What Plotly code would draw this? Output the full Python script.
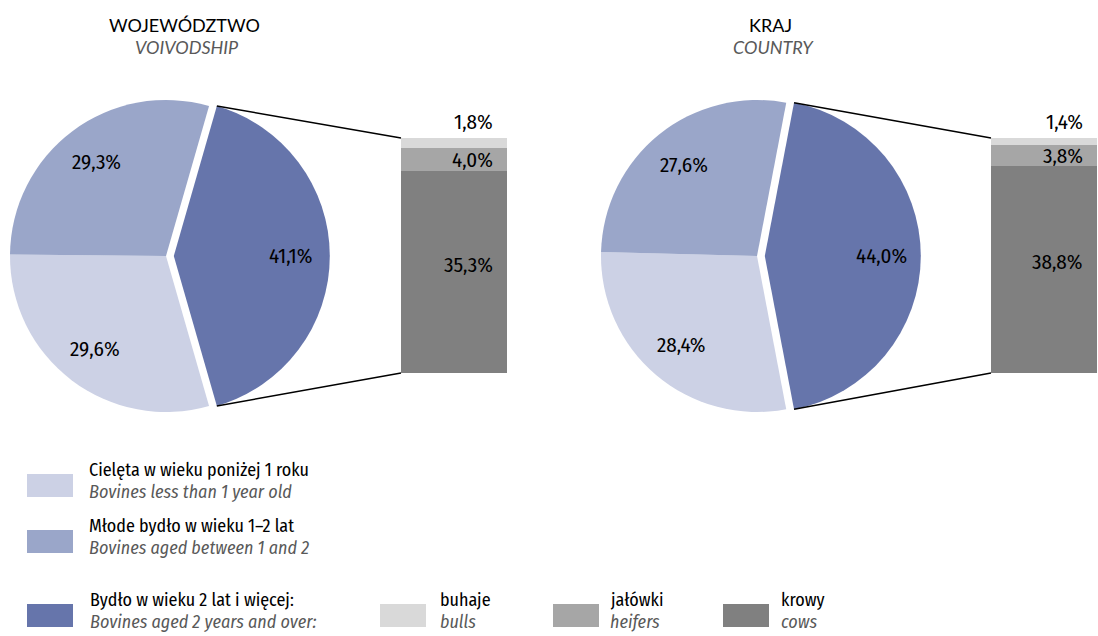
import math
import plotly.graph_objects as go

# Struktura pogłowia bydła (%)
age_groups = ["Bydło w wieku 2 lat i więcej", "Cielęta w wieku poniżej 1 roku", "Młode bydło w wieku 1–2 lat"]
voivodship_age = [41.1, 29.6, 29.3]
country_age = [44.0, 28.4, 27.6]

adult_groups = ["krowy", "jałówki", "buhaje"]
voivodship_adult = [35.3, 4.0, 1.8]
country_adult = [38.8, 3.8, 1.4]

panel_titles_pl = ["WOJEWÓDZTWO", "KRAJ"]
panel_titles_en = ["VOIVODSHIP", "COUNTRY"]

legend_pl = ["Cielęta w wieku poniżej 1 roku", "Młode bydło w wieku 1–2 lat",
             "Bydło w wieku 2 lat i więcej:", "buhaje", "jałówki", "krowy"]
legend_en = ["Bovines less than 1 year old", "Bovines aged between 1 and 2",
             "Bovines aged 2 years and over:", "bulls", "heifers", "cows"]

W, H = 1098, 636
FONT = "Fira Sans Condensed, Liberation Sans Narrow, DejaVu Sans Condensed, Roboto, sans-serif"
TITLE_FONT = "Lato, Open Sans, sans-serif"
PIE_COLORS = ["#6675ab", "#ccd1e5", "#9aa6c9"]
BAR_COLORS = ["#808080", "#a6a6a6", "#d9d9d9"]
GREY_TEXT = "#595959"
PULL = 0.05


def px_x(x):
    return x / W


def px_y(y):
    return 1 - y / H


def pct(v):
    return f"{v:.1f}%".replace(".", ",")


fig = go.Figure()

# panel layout in pixels: pie centre, radius, bar box, title centre
panels = [
    dict(age=voivodship_age, adult=voivodship_adult, cx=166, cy=256, r=156,
         bar=(401, 507, 138, 373), title_x=184),
    dict(age=country_age, adult=country_adult, cx=757, cy=256, r=156,
         bar=(991, 1097, 138, 373), title_x=770),
]

shapes = []
annotations = []

for i, p in enumerate(panels):
    half = p["r"] * (1 + PULL)
    rotation = 90 - p["age"][0] * 3.6 / 2
    fig.add_trace(go.Pie(
        values=p["age"],
        labels=age_groups,
        sort=False,
        direction="clockwise",
        rotation=rotation,
        pull=[PULL, 0, 0],
        marker=dict(colors=PIE_COLORS, line=dict(color="white", width=0)),
        textinfo="none",
        domain=dict(x=[px_x(p["cx"] - half), px_x(p["cx"] + half)],
                    y=[px_y(p["cy"] + half), px_y(p["cy"] - half)]),
        showlegend=False,
        hoverinfo="label+value",
    ))

    # slice labels at 3/4 radius along each slice bisector
    start = rotation
    for j, val in enumerate(p["age"]):
        mid = math.radians(start + val * 3.6 / 2)
        start += val * 3.6
        ox = p["cx"] + (PULL * p["r"] * math.sin(mid) if j == 0 else 0)
        lx = ox + 0.75 * p["r"] * math.sin(mid)
        ly = p["cy"] - 0.75 * p["r"] * math.cos(mid)
        annotations.append(dict(x=px_x(lx), y=px_y(ly), xref="paper", yref="paper",
                                text=pct(val), showarrow=False, xanchor="center", yanchor="middle",
                                font=dict(family=FONT, size=21, color="black")))

    xa = "x" if i == 0 else "x2"
    ya = "y" if i == 0 else "y2"
    total = sum(p["adult"])
    for name, val, col in zip(adult_groups, p["adult"], BAR_COLORS):
        fig.add_trace(go.Bar(
            x=[0], y=[val], name=name, width=1,
            marker=dict(color=col, line=dict(width=0)),
            xaxis=xa, yaxis=ya, showlegend=False, hoverinfo="name+y",
        ))
    x0, x1, y0, y1 = p["bar"]
    axis_common = dict(showgrid=False, zeroline=False, showticklabels=False,
                       showline=False, fixedrange=True)
    fig.update_layout(**{
        ("xaxis" if i == 0 else "xaxis2"): dict(domain=[px_x(x0), px_x(x1)], range=[-0.5, 0.5],
                                                anchor=ya, **axis_common),
        ("yaxis" if i == 0 else "yaxis2"): dict(domain=[px_y(y1), px_y(y0)], range=[0, total],
                                                anchor=xa, **axis_common),
    })

    # bar labels, right aligned
    base = 0
    for j, val in enumerate(p["adult"]):
        if j == len(p["adult"]) - 1:
            annotations.append(dict(x=0.5, y=total, xref=xa, yref=ya, text=pct(val), showarrow=False,
                                    xanchor="right", yanchor="bottom", xshift=-12, yshift=1,
                                    font=dict(family=FONT, size=21, color="black")))
        else:
            annotations.append(dict(x=0.5, y=base + val / 2, xref=xa, yref=ya, text=pct(val),
                                    showarrow=False, xanchor="right", yanchor="middle",
                                    xshift=-12, yshift=7 if j == 0 else 0,
                                    font=dict(family=FONT, size=21, color="black")))
        base += val

    # connector lines from pulled slice edge to bar corners
    half_angle = math.radians(p["age"][0] * 3.6 / 2)
    off = PULL * p["r"]
    tip_x = p["cx"] + off + p["r"] * math.cos(half_angle)
    tip_top = p["cy"] - p["r"] * math.sin(half_angle)
    tip_bot = p["cy"] + p["r"] * math.sin(half_angle)
    for ty, by in [(tip_top, y0), (tip_bot, y1)]:
        shapes.append(dict(type="line", xref="paper", yref="paper",
                           x0=px_x(tip_x), y0=px_y(ty), x1=px_x(x0), y1=px_y(by),
                           line=dict(color="black", width=1.5)))

    annotations.append(dict(x=px_x(p["title_x"]), y=px_y(25), xref="paper", yref="paper",
                            text=panel_titles_pl[i], showarrow=False, xanchor="center",
                            yanchor="middle", font=dict(family=TITLE_FONT, size=18, color="black")))
    annotations.append(dict(x=px_x(p["title_x"] + 3), y=px_y(47), xref="paper", yref="paper",
                            text=f"<i>{panel_titles_en[i]}</i>", showarrow=False, xanchor="center",
                            yanchor="middle", font=dict(family=TITLE_FONT, size=18, color=GREY_TEXT)))

# legend: swatch left/top, text left
legend_items = [
    (PIE_COLORS[1], 27, 474, 87),
    (PIE_COLORS[2], 27, 530, 87),
    (PIE_COLORS[0], 27, 604, 88),
    (BAR_COLORS[2], 380, 604, 438),
    (BAR_COLORS[1], 553, 604, 608),
    (BAR_COLORS[0], 723, 604, 779),
]
for k, (col, bx, by, tx) in enumerate(legend_items):
    shapes.append(dict(type="rect", xref="paper", yref="paper",
                       x0=px_x(bx), x1=px_x(bx + 46), y0=px_y(by + 23), y1=px_y(by),
                       fillcolor=col, line=dict(width=0)))
    annotations.append(dict(x=px_x(tx), y=px_y(by - 4), xref="paper", yref="paper",
                            text=legend_pl[k], showarrow=False, xanchor="left", yanchor="middle",
                            font=dict(family=FONT, size=18, color="black")))
    annotations.append(dict(x=px_x(tx), y=px_y(by + 18), xref="paper", yref="paper",
                            text=f"<i>{legend_en[k]}</i>", showarrow=False, xanchor="left",
                            yanchor="middle", font=dict(family=FONT, size=18, color=GREY_TEXT)))

fig.update_layout(
    width=W, height=H,
    margin=dict(l=0, r=0, t=0, b=0),
    paper_bgcolor="white",
    plot_bgcolor="white",
    barmode="stack",
    bargap=0,
    font=dict(family=FONT, color="black"),
    shapes=shapes,
    annotations=annotations,
    showlegend=False,
)

fig.write_html("out.html", config={"displayModeBar": False},
               post_script="document.body.style.margin='0';")
